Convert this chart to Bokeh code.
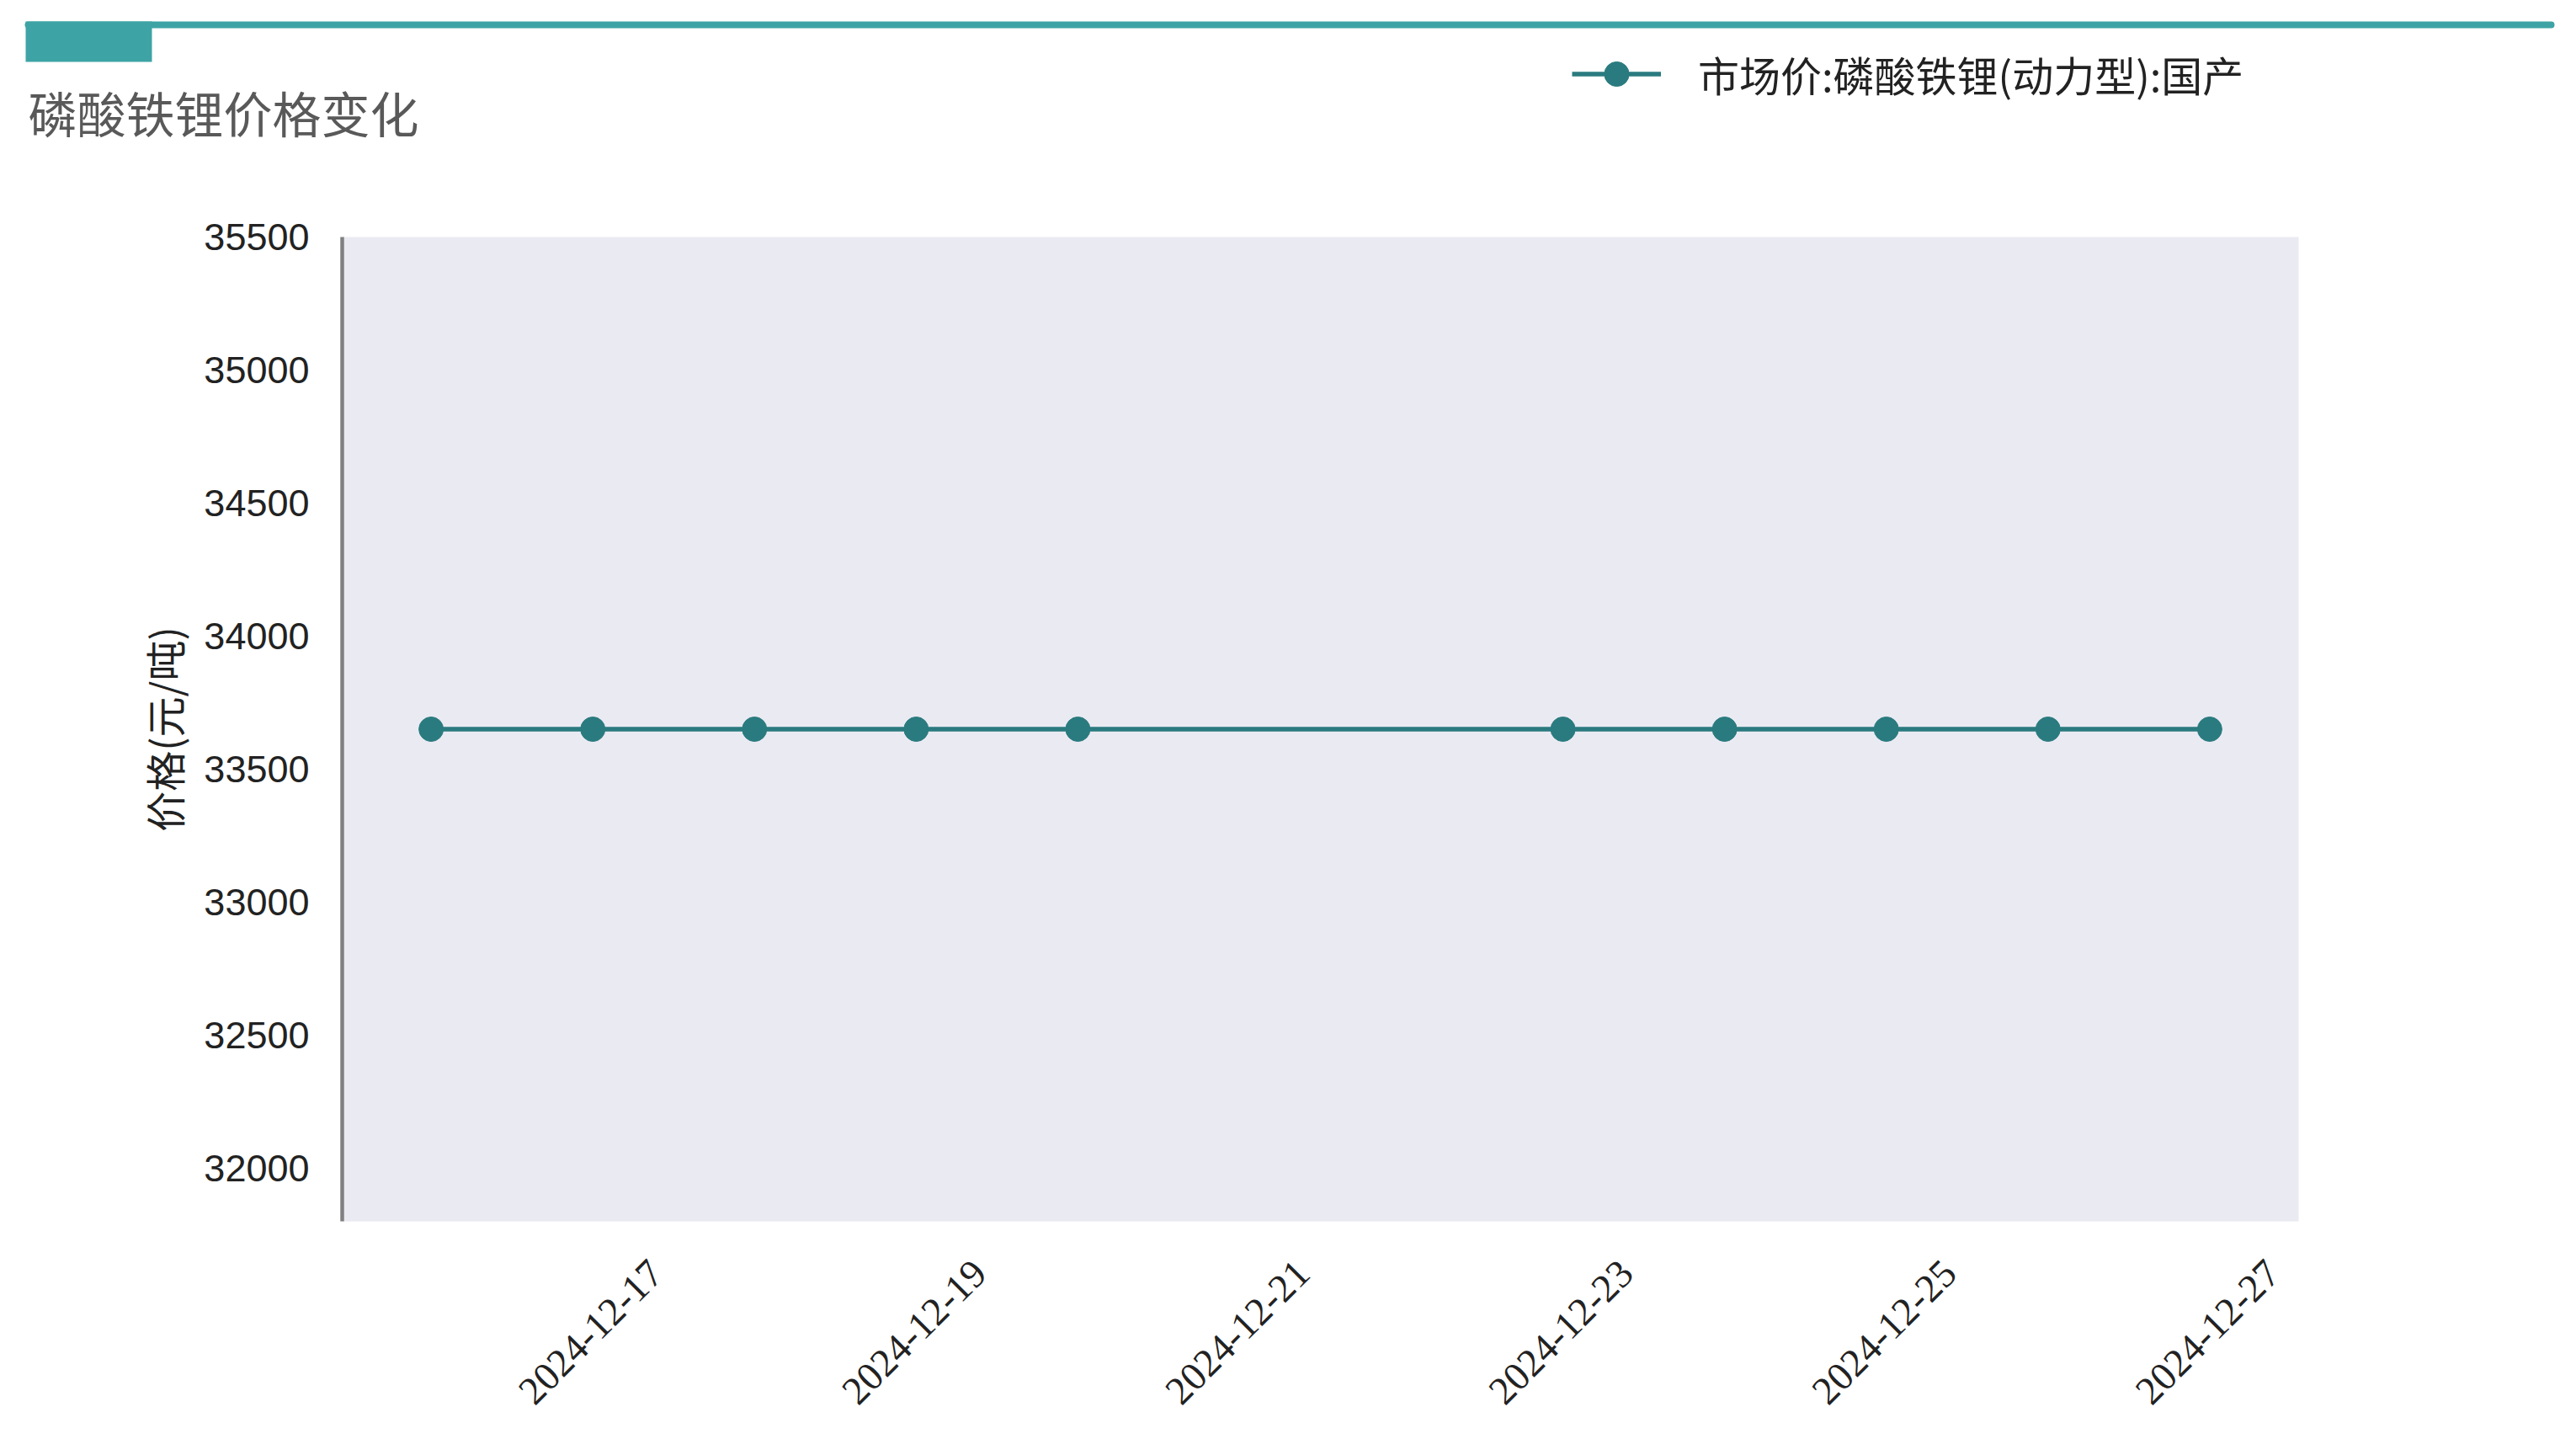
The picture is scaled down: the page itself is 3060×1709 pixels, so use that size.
import datetime as dt
from bokeh.plotting import figure
from bokeh.models import (Range1d, FixedTicker, DatetimeTickFormatter, DatetimeAxis, Legend,
                          LegendItem, ColumnDataSource)
from bokeh.core.properties import value
from bokeh.embed import file_html
from bokeh.resources import INLINE

# ---- data ----
dates = ["2024-12-16", "2024-12-17", "2024-12-18", "2024-12-19", "2024-12-20",
         "2024-12-23", "2024-12-24", "2024-12-25", "2024-12-26", "2024-12-27"]
prices = [33650, 33650, 33650, 33650, 33650, 33650, 33650, 33650, 33650, 33650]
x_tick_labels = ["2024-12-17", "2024-12-19", "2024-12-21", "2024-12-23", "2024-12-25", "2024-12-27"]
y_ticks = [32000, 32500, 33000, 33500, 34000, 34500, 35000, 35500]
series_name = "市场价:磷酸铁锂(动力型):国产"
title_text = "磷酸铁锂价格变化"
y_label = "价格(元/吨)"

TEAL = "#3ea3a4"
LINE = "#2a7b7f"
CJK = "Noto Sans CJK SC"

def to_dt(s):
    return dt.datetime.strptime(s, "%Y-%m-%d")

W, H = 3044, 1693
HH = 200  # header height

# ---- header (title bar, title, legend) ----
hdr = figure(width=W, height=HH, x_range=Range1d(0, W), y_range=Range1d(HH, 0),
             output_backend="svg", toolbar_location=None, min_border=0)
hdr.axis.visible = False
hdr.grid.visible = False
hdr.outline_line_color = None
hdr.background_fill_color = "white"
hdr.border_fill_color = "white"
hdr.line(x=[33, 3030], y=[29, 29], line_color=TEAL, line_width=8, line_cap="round")
hdr.quad(left=[30], right=[180], top=[25], bottom=[73], fill_color=TEAL, line_color=None)
hdr.text(x=[33], y=[132], text=[title_text], text_font=value(CJK), text_font_size="58px",
         text_color="#595959", text_baseline="middle", text_align="left")

# ---- main chart ----
xs = [to_dt(d) for d in dates]
src = ColumnDataSource(dict(x=xs, y=prices))

span = xs[-1] - xs[0]
x0 = xs[0] - span * 0.05
x1 = xs[-1] + span * 0.05
ylo = min(prices) * 0.945
yhi = max(prices) * 1.055

p = figure(width=W, height=H - HH, x_axis_type="datetime", output_backend="svg",
           toolbar_location=None, x_range=Range1d(x0, x1), y_range=Range1d(ylo, yhi),
           min_border_left=406, min_border_right=314, min_border_top=281 - HH,
           min_border_bottom=243)
p.background_fill_color = "#EAEAF2"
p.border_fill_color = "white"
p.outline_line_color = None
p.xgrid.visible = False
p.ygrid.visible = False

epoch = dt.datetime(1970, 1, 1)
tick_ms = [(to_dt(t) - epoch).total_seconds() * 1000 for t in x_tick_labels]

# main x axis hidden; labels drawn by a companion axis whose range is offset so the
# rotated labels end up centred on their dates (as in the reference)
main_xaxis = p.below[0]
main_xaxis.visible = False
shift = dt.timedelta(hours=9.4)
p.extra_x_ranges = {"lbl": Range1d(x0 - shift, x1 - shift)}
lbl_axis = DatetimeAxis(x_range_name="lbl", ticker=FixedTicker(ticks=tick_ms),
                        formatter=DatetimeTickFormatter(days="%Y-%m-%d", months="%Y-%m-%d",
                                                        hours="%Y-%m-%d"))
lbl_axis.major_label_orientation = 0.785398
lbl_axis.axis_line_color = None
lbl_axis.major_tick_line_color = None
lbl_axis.minor_tick_line_color = None
lbl_axis.major_tick_out = 0
lbl_axis.major_tick_in = 0
lbl_axis.major_label_text_font = "Liberation Serif"
lbl_axis.major_label_text_font_size = "47px"
lbl_axis.major_label_text_color = "#222222"
lbl_axis.major_label_standoff = 54
p.add_layout(lbl_axis, "below")

p.yaxis.ticker = FixedTicker(ticks=y_ticks)
p.yaxis.axis_line_color = "#808080"
p.yaxis.axis_line_width = 4.5
p.yaxis.major_tick_line_color = None
p.yaxis.minor_tick_line_color = None
p.yaxis.major_tick_out = 0
p.yaxis.major_tick_in = 0
p.yaxis.major_label_standoff = 39
p.yaxis.major_label_text_font = "Liberation Sans"
p.yaxis.major_label_text_font_size = "45px"
p.yaxis.major_label_text_color = "#222222"
p.yaxis.axis_label = y_label
p.yaxis.axis_label_text_font = CJK
p.yaxis.axis_label_text_font_style = "normal"
p.yaxis.axis_label_text_font_size = "48px"
p.yaxis.axis_label_text_color = "#222222"
p.yaxis.axis_label_standoff = 10

r_line = p.line("x", "y", source=src, line_color=LINE, line_width=5.5)
r_pts = p.scatter("x", "y", source=src, size=29, marker="circle",
                  fill_color=LINE, line_color=LINE)

# legend swatch renderers in the header: same style as the series, placed outside the
# header's visible range so only their legend swatch shows
h_line = hdr.line(x=[0, W], y=[-1000, -1000], line_color=LINE, line_width=5.5)
h_pts = hdr.scatter(x=[0], y=[-1000], size=29, marker="circle", fill_color=LINE, line_color=LINE)
legend = Legend(items=[LegendItem(label=series_name, renderers=[h_line, h_pts])],
                location=(1867, 76), orientation="horizontal",
                padding=0, margin=0, spacing=0, glyph_width=106, glyph_height=73,
                label_height=73, label_standoff=44, label_text_font=CJK,
                label_text_font_size="49px", label_text_color="#222222",
                label_text_baseline="middle",
                background_fill_alpha=0, border_line_color=None)
hdr.add_layout(legend)

open("out.html", "w").write(file_html([hdr, p], INLINE))
